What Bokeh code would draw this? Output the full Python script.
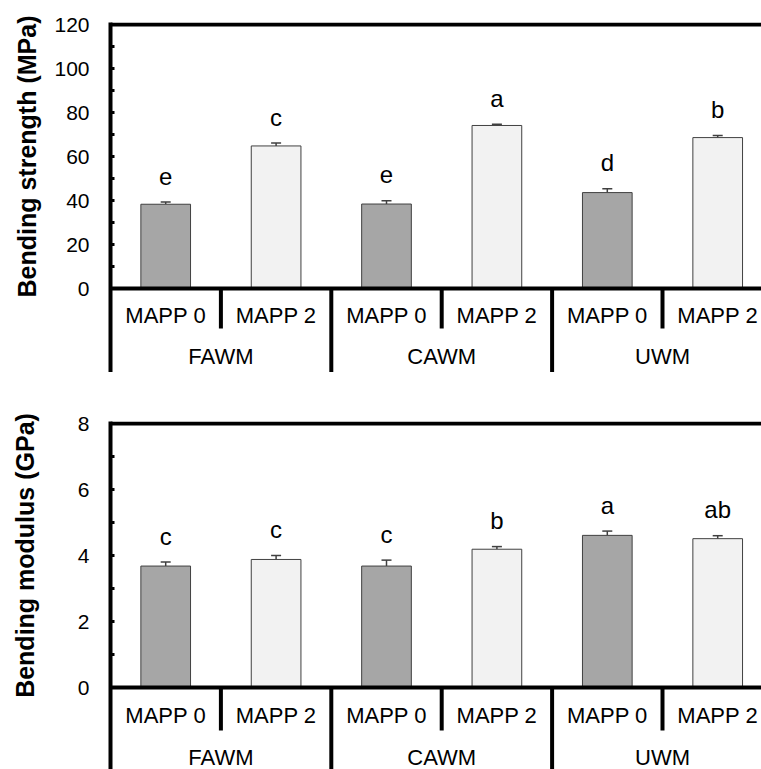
import math
from bokeh.plotting import figure
from bokeh.models import Range1d, FixedTicker, ColumnDataSource, Whisker, TeeHead
from bokeh.layouts import column, row
from bokeh.embed import file_html
from bokeh.resources import INLINE
from bokeh.core.properties import value

# ---------------- data ----------------
groups = ["FAWM", "CAWM", "UWM"]
subgroups = ["MAPP 0", "MAPP 2"]

strength = [38.3, 64.8, 38.4, 74.1, 43.6, 68.6]
strength_err = [1.0, 1.3, 1.5, 0.6, 1.7, 1.0]
strength_letters = ["e", "c", "e", "a", "d", "b"]

modulus = [3.68, 3.88, 3.68, 4.19, 4.61, 4.51]
modulus_err = [0.12, 0.12, 0.18, 0.08, 0.13, 0.09]
modulus_letters = ["c", "c", "c", "b", "a", "ab"]

strength_ticks = [0, 20, 40, 60, 80, 100, 120]
strength_minor = [10, 30, 50, 70, 90, 110]
modulus_ticks = [0, 2, 4, 6, 8]
modulus_minor = [1, 3, 5, 7]

titles = ["Bending strength (MPa)", "Bending modulus (GPa)"]

FONT = "Liberation Sans"
DARK = "#a6a6a6"
LIGHT = "#f2f2f2"
EDGE = "#404040"

TITLE_W = 50          # width of the strip holding the rotated y titles
CHART_W = 761 - TITLE_W
LEFT = 60             # from strip edge to the value axis (page x = 110)
CAT_PX = 110.4        # pixels per category
XR = Range1d(0, (CHART_W - LEFT) / CAT_PX)

n_sub = len(subgroups)
n_cat = len(groups) * n_sub
xs = [i + 0.5 for i in range(n_cat)]
sub_names = [subgroups[i % n_sub] for i in range(n_cat)]
fills = [DARK if (i % n_sub) == 0 else LIGHT for i in range(n_cat)]


def chart(vals, errs, letters, ticks, minor, ppu, border_top, below_px,
          sub_y_px, grp_y_px, sub_sep_px):
    top_val = ticks[-1]
    y_hi = top_val + 2.0 / ppu
    y_lo = -below_px / ppu
    frame_h = (y_hi - y_lo) * ppu
    hi = [v + e for v, e in zip(vals, errs)]
    src = ColumnDataSource(dict(x=xs, top=vals, lo=vals, hi=hi, fill=fills,
                                letter=letters, sub=sub_names))

    p = figure(width=CHART_W, height=int(round(border_top + frame_h)),
               output_backend="svg", toolbar_location=None,
               x_range=XR, y_range=Range1d(y_lo, y_hi),
               x_axis_location=None, min_border=0, min_border_left=LEFT,
               min_border_right=0, min_border_top=border_top, min_border_bottom=0)
    p.outline_line_color = None
    p.grid.visible = False

    ax = p.yaxis[0]
    ax.ticker = FixedTicker(ticks=ticks, minor_ticks=minor)
    ax.axis_line_width = 4
    ax.axis_line_color = "black"
    ax.major_tick_in = 4
    ax.major_tick_out = 0
    ax.major_tick_line_width = 3
    ax.minor_tick_in = 4
    ax.minor_tick_out = 0
    ax.minor_tick_line_width = 3
    ax.major_label_text_font = FONT
    ax.major_label_text_font_size = "21px"
    ax.major_label_text_color = "black"
    ax.major_label_standoff = 21

    # bars
    p.vbar(x="x", top="top", bottom=0, width=0.45, source=src,
           fill_color="fill", line_color=EDGE, line_width=1)

    # upper error bars
    p.add_layout(Whisker(source=src, base="x", upper="hi", lower="lo",
                         line_color=EDGE, line_width=1.5,
                         upper_head=TeeHead(size=10, line_color=EDGE, line_width=1.5),
                         lower_head=None))

    # significance letters
    p.text(x="x", y="hi", text="letter", source=src, text_align="center",
           text_baseline="alphabetic", y_offset=-26,
           text_font=value(FONT), text_font_size="24px", text_color="black")

    # value baseline and top border
    p.segment(x0=[0, 0], y0=[0, top_val], x1=[n_cat, n_cat], y1=[0, top_val],
              line_color="black", line_width=4)

    # category separators
    sub_sep_x = [g * n_sub + 1 for g in range(len(groups))]
    grp_sep_x = [g * n_sub for g in range(1, len(groups) + 1)]
    p.segment(x0=sub_sep_x, y0=[0] * len(sub_sep_x), x1=sub_sep_x,
              y1=[-sub_sep_px / ppu] * len(sub_sep_x), line_color="black", line_width=4)
    p.segment(x0=grp_sep_x, y0=[0] * len(grp_sep_x), x1=grp_sep_x,
              y1=[y_lo] * len(grp_sep_x), line_color="black", line_width=4)

    # category labels
    p.text(x="x", y=-sub_y_px / ppu, text="sub", source=src, text_align="center",
           text_baseline="middle", text_font=value(FONT), text_font_size="22px",
           text_color="black")
    gsrc = ColumnDataSource(dict(x=[g * n_sub + n_sub / 2 for g in range(len(groups))],
                                 name=groups))
    p.text(x="x", y=-grp_y_px / ppu, text="name", source=gsrc, text_align="center",
           text_baseline="middle", text_font=value(FONT), text_font_size="22px",
           text_color="black")
    return p


p1 = chart(strength, strength_err, strength_letters, strength_ticks, strength_minor,
           2.2, 22, 84, 27, 68, 40)
p2 = chart(modulus, modulus_err, modulus_letters, modulus_ticks, modulus_minor,
           33.0, 49, 82, 28, 70, 43)

# strip with the rotated y-axis titles (y measured in page pixels from the top)
total_h = p1.height + p2.height
tf = figure(width=TITLE_W, height=total_h, output_backend="svg", toolbar_location=None,
            x_range=Range1d(0, TITLE_W), y_range=Range1d(total_h, 0),
            x_axis_location=None, y_axis_location=None, min_border=0)
tf.outline_line_color = None
tf.grid.visible = False
tsrc = ColumnDataSource(dict(x=[26, 24], y=[156, 555], t=titles))
tf.text(x="x", y="y", text="t", source=tsrc, angle=math.pi / 2,
        text_align="center", text_baseline="middle", text_font=value(FONT),
        text_font_size="25px", text_font_style="bold", text_color="black")

layout = row(tf, column(p1, p2, spacing=0), spacing=0)
open("out.html", "w").write(file_html(layout, INLINE))
